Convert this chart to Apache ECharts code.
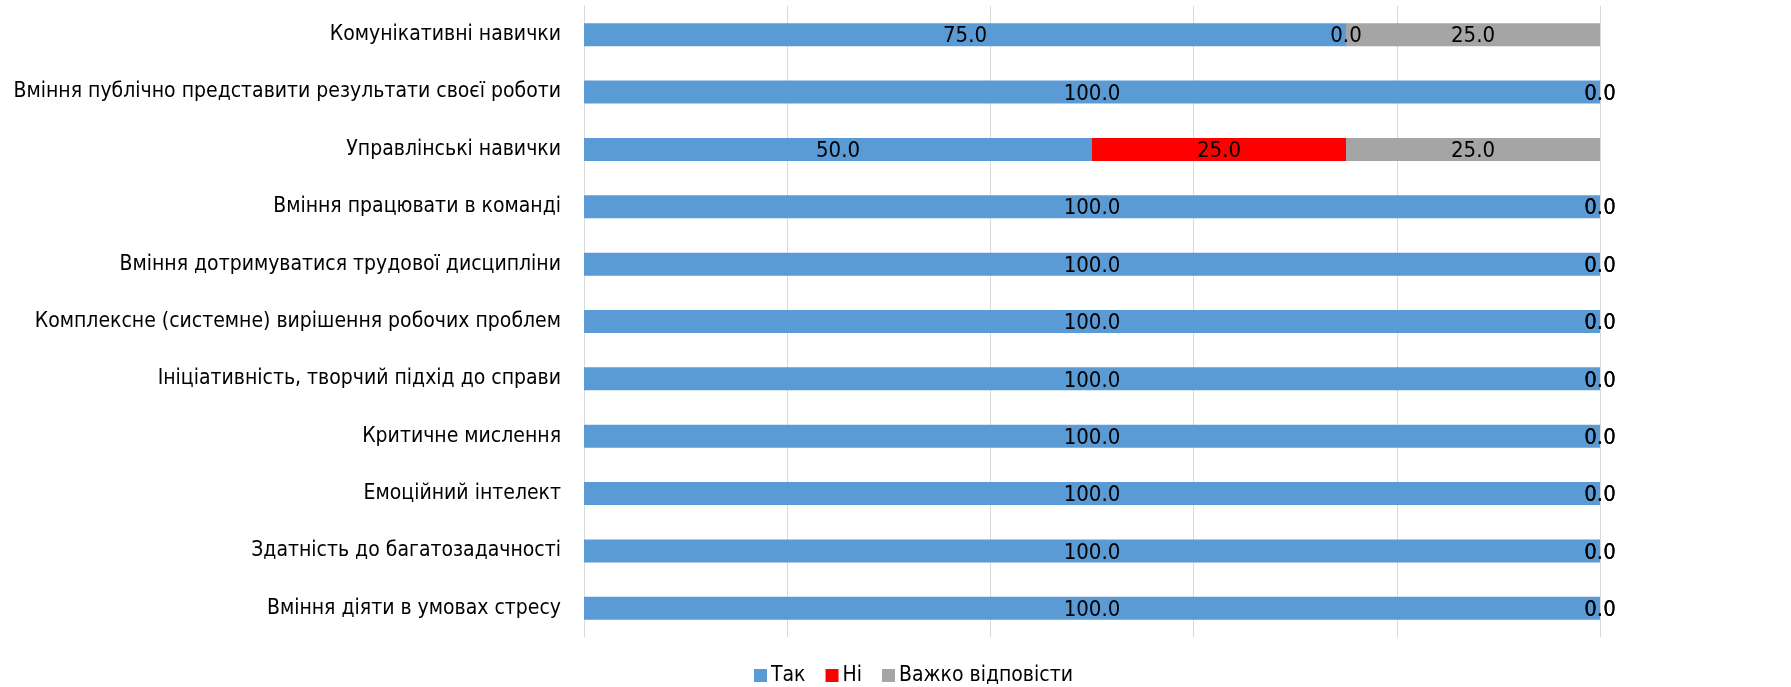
<!DOCTYPE html>
<html><head><meta charset="utf-8">
<script src="https://cdn.jsdelivr.net/npm/echarts@6/dist/echarts.min.js"></script>
<style>html,body{margin:0;padding:0;background:#fff}#c{width:1791px;height:687px}</style>
</head><body><div id="c"></div>
<script>
const categories = [
  "Комунікативні навички",
  "Вміння публічно представити результати своєї роботи",
  "Управлінські навички",
  "Вміння працювати в команді",
  "Вміння дотримуватися трудової дисципліни",
  "Комплексне (системне) вирішення робочих проблем",
  "Ініціативність, творчий підхід до справи",
  "Критичне мислення",
  "Емоційний інтелект",
  "Здатність до багатозадачності",
  "Вміння діяти в умовах стресу"
];
const seriesNames = ["Так", "Ні", "Важко відповісти"];
const yesValues  = [75, 100, 50, 100, 100, 100, 100, 100, 100, 100, 100];
const noValues   = [0, 0, 25, 0, 0, 0, 0, 0, 0, 0, 0];
const hardValues = [25, 0, 25, 0, 0, 0, 0, 0, 0, 0, 0];
const xTicks = [0, 20, 40, 60, 80, 100];

const FONT = "'Liberation Sans Narrow', 'DejaVu Sans Condensed', sans-serif";
const colors = ["#5B9BD5", "#FF0000", "#A5A5A5"];
const dataSets = [yesValues, noValues, hardValues];

const chart = echarts.init(document.getElementById('c'), null, {renderer: 'canvas'});
chart.setOption({
  animation: false,
  textStyle: {fontFamily: FONT},
  grid: {left: 584, right: 191, top: 6, bottom: 50, containLabel: false, outerBoundsMode: 'none'},
  legend: {
    data: seriesNames, left: 754, top: 665, padding: 0, itemWidth: 13, itemHeight: 13, itemGap: 20,
    icon: 'rect',
    textStyle: {fontFamily: FONT, fontSize: 21, color: '#000', padding: [0, 0, 0, -1]}
  },
  xAxis: {
    type: 'value', min: xTicks[0], max: xTicks[xTicks.length - 1], interval: 20,
    axisLabel: {show: false}, axisTick: {show: false}, axisLine: {show: false},
    splitLine: {show: true, lineStyle: {color: '#D9D9D9', width: 1}}
  },
  yAxis: {
    type: 'category', data: categories, inverse: true,
    axisTick: {show: false},
    axisLine: {show: true, lineStyle: {color: '#D9D9D9', width: 1}},
    axisLabel: {fontFamily: FONT, fontSize: 21, color: '#000', margin: 23, padding: [4, 0, 0, 0]}
  },
  series: seriesNames.map((n, i) => ({
    name: n, type: 'bar', stack: 'total', barWidth: 23,
    itemStyle: {color: colors[i]},
    label: {
      show: true, position: 'inside', color: '#000', fontFamily: FONT, fontSize: 22,
      offset: [0, 2],
      formatter: p => Number(p.value).toFixed(1)
    },
    data: dataSets[i]
  }))
});
</script></body></html>
